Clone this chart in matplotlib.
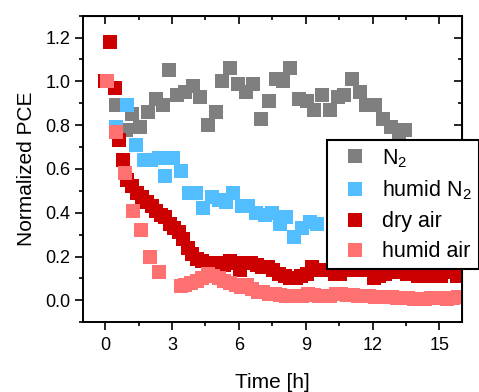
import matplotlib
matplotlib.use("Agg")
import matplotlib.pyplot as plt
from matplotlib.ticker import MultipleLocator, FormatStrFormatter

plt.rcParams["font.family"] = ["Liberation Sans", "DejaVu Sans"]
plt.rcParams["mathtext.fontset"] = "custom"
plt.rcParams["mathtext.rm"] = "Liberation Sans"
plt.rcParams["mathtext.it"] = "Liberation Sans:italic"

# N2
n2_t = [0.0, 0.48, 0.93, 1.19, 1.55, 1.92, 2.26, 2.58, 2.85, 3.22, 3.6, 3.94,
        4.26, 4.61, 4.96, 5.26, 5.6, 5.94, 6.3, 6.64, 7.01, 7.34, 7.68, 7.98,
        8.3, 8.69, 9.05, 9.39, 9.73, 10.09, 10.43, 10.73, 11.07, 11.43, 11.72,
        12.09, 12.46, 12.83, 13.18, 13.47]
n2_pce = [1.0, 0.89, 0.78, 0.85, 0.79, 0.86, 0.92, 0.89, 1.05, 0.94, 0.95, 0.98,
          0.93, 0.80, 0.86, 1.0, 1.06, 0.99, 0.95, 0.99, 0.83, 0.91, 1.01, 1.0,
          1.06, 0.92, 0.91, 0.87, 0.94, 0.87, 0.93, 0.94, 1.01, 0.95, 0.89,
          0.89, 0.83, 0.79, 0.77, 0.78]

# humid N2
hn2_t = [0.0, 0.48, 1.0, 1.37, 1.74, 2.04, 2.41, 2.7, 3.03, 3.4, 3.74, 4.07,
         4.41, 4.79, 5.13, 5.4, 5.75, 6.12, 6.42, 6.79, 7.16, 7.5, 7.83, 8.13,
         8.47, 8.84, 9.17, 9.52]
hn2_pce = [1.0, 0.79, 0.89, 0.71, 0.64, 0.64, 0.65, 0.57, 0.65, 0.59, 0.49, 0.49,
           0.42, 0.47, 0.46, 0.45, 0.49, 0.43, 0.43, 0.40, 0.39, 0.40, 0.35, 0.38,
           0.29, 0.33, 0.36, 0.35]

# dry air
dry_t = [0.0, 0.22, 0.42, 0.62, 0.8, 1.0, 1.2, 1.43, 1.65, 1.87, 2.1, 2.3, 2.5,
         2.7, 2.9, 3.1, 3.3, 3.5, 3.7, 3.9, 4.1, 4.35, 4.6, 4.85, 5.1, 5.35,
         5.6, 5.85, 6.05, 6.3, 6.55, 6.8, 7.05, 7.3, 7.55, 7.8, 8.05, 8.3, 8.55,
         8.8, 9.05, 9.3, 9.55, 9.8, 10.05, 10.3, 10.55, 10.8, 11.05, 11.3, 11.55,
         11.8, 12.05, 12.3, 12.55, 12.8, 13.05, 13.3, 13.55, 13.8, 14.05, 14.3,
         14.55, 14.8, 15.05, 15.3, 15.55, 15.8]
dry_pce = [1.0, 1.18, 0.97, 0.73, 0.64, 0.55, 0.52, 0.49, 0.47, 0.45, 0.43, 0.41,
           0.39, 0.38, 0.35, 0.33, 0.31, 0.28, 0.24, 0.21, 0.19, 0.18, 0.17, 0.17,
           0.17, 0.16, 0.18, 0.17, 0.14, 0.17, 0.17, 0.16, 0.15, 0.15, 0.14, 0.12,
           0.11, 0.10, 0.10, 0.11, 0.12, 0.15, 0.14, 0.14, 0.14, 0.12, 0.12, 0.14,
           0.14, 0.17, 0.14, 0.14, 0.10, 0.11, 0.12, 0.13, 0.14, 0.13, 0.12, 0.12,
           0.11, 0.11, 0.11, 0.12, 0.11, 0.14, 0.13, 0.11]

# humid air
hair_t = [0.08, 0.48, 0.87, 1.26, 1.62, 2.0, 2.41, 3.4, 3.6, 3.85, 4.1, 4.35,
          4.6, 4.85, 5.1, 5.35, 5.6, 5.85, 6.1, 6.35, 6.6, 6.85, 7.1, 7.35, 7.6,
          7.85, 8.1, 8.35, 8.6, 8.85, 9.1, 9.35, 9.6, 9.85, 10.1, 10.35, 10.6,
          10.85, 11.1, 11.35, 11.6, 11.85, 12.1, 12.35, 12.6, 12.85, 13.1, 13.35,
          13.6, 13.85, 14.1, 14.35, 14.6, 14.85, 15.1, 15.35, 15.6, 15.85]
hair_pce = [1.0, 0.77, 0.58, 0.41, 0.32, 0.20, 0.13, 0.065, 0.07, 0.08, 0.09,
            0.10, 0.12, 0.11, 0.10, 0.09, 0.08, 0.07, 0.06, 0.07, 0.05, 0.04,
            0.04, 0.03, 0.03, 0.025, 0.02, 0.02, 0.02, 0.02, 0.03, 0.025, 0.02,
            0.02, 0.02, 0.03, 0.03, 0.025, 0.025, 0.02, 0.02, 0.02, 0.015, 0.015,
            0.015, 0.015, 0.01, 0.01, 0.01, 0.008, 0.008, 0.008, 0.01, 0.01,
            0.01, 0.008, 0.01, 0.015]

series = [
    (n2_t, n2_pce, "N$_2$", "#7f7f7f"),
    (hn2_t, hn2_pce, "humid N$_2$", "#52beff"),
    (dry_t, dry_pce, "dry air", "#cc0000"),
    (hair_t, hair_pce, "humid air", "#ff7070"),
]

fig = plt.figure(figsize=(4.79, 3.92), dpi=100)
ax = fig.add_axes([0.173, 0.178, 0.791, 0.782])

for t, pce, label, color in series:
    ax.plot(t, pce, "s", color=color, markersize=10, markeredgewidth=0,
            label=label)

ax.set_xlim(-1, 16)
ax.set_ylim(-0.1, 1.3)
ax.xaxis.set_major_locator(MultipleLocator(3))
ax.xaxis.set_minor_locator(MultipleLocator(1.5))
ax.yaxis.set_major_locator(MultipleLocator(0.2))
ax.yaxis.set_minor_locator(MultipleLocator(0.1))
ax.yaxis.set_major_formatter(FormatStrFormatter("%.1f"))
ax.tick_params(which="major", direction="out", length=5.5, width=1.2,
               labelsize=13)
ax.tick_params(axis="x", which="major", pad=5)
ax.tick_params(which="minor", direction="out", length=3, width=1.2)
for s in ax.spines.values():
    s.set_linewidth(1.4)

# mirrored inward ticks on top and right
top = ax.secondary_xaxis("top")
top.xaxis.set_major_locator(MultipleLocator(3))
top.xaxis.set_minor_locator(MultipleLocator(1.5))
top.tick_params(which="both", direction="in", labeltop=False, width=1.2)
top.tick_params(which="major", length=5.5)
top.tick_params(which="minor", length=3)
right = ax.secondary_yaxis("right")
right.yaxis.set_major_locator(MultipleLocator(0.2))
right.yaxis.set_minor_locator(MultipleLocator(0.1))
right.tick_params(which="both", direction="in", labelright=False, width=1.2)
right.tick_params(which="major", length=5.5)
right.tick_params(which="minor", length=3)

ax.set_xlabel("Time [h]", fontsize=15, labelpad=14)
ax.set_ylabel("Normalized PCE", fontsize=15, labelpad=7)

leg = ax.legend(loc="upper left", bbox_to_anchor=(0.645, 0.595),
                fontsize=15.5, frameon=True, fancybox=False, framealpha=1,
                edgecolor="black", borderpad=0.33, labelspacing=0.42,
                handletextpad=0.3, handlelength=1.9, borderaxespad=0)
leg.get_frame().set_linewidth(1.5)
leg.set_clip_on(False)

fig.savefig("out.png", dpi=100)
